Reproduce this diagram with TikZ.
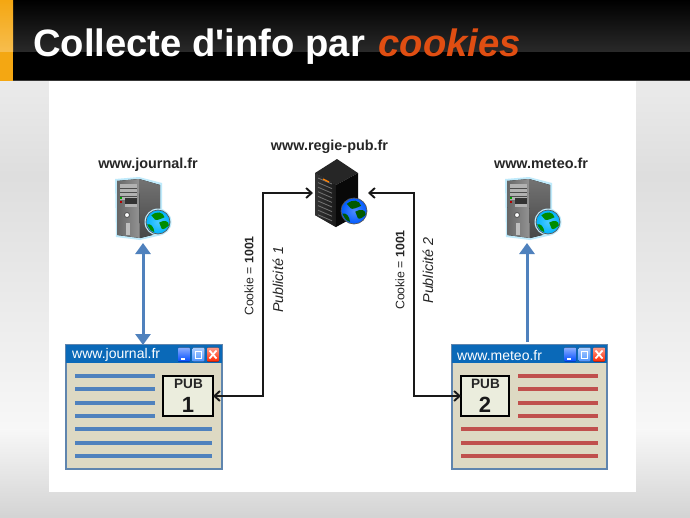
\documentclass[tikz,border=0pt]{standalone}
\usepackage{fontspec}
\setmainfont{Liberation Sans}
\newfontfamily\plainmap{Liberation Sans}
\usetikzlibrary{arrows.meta,calc}
\definecolor{barblue}{HTML}{4F81BD}
\definecolor{linered}{HTML}{C0504D}
\definecolor{winfill}{HTML}{DDD9C3}
\definecolor{winedge}{HTML}{5F85AE}
\definecolor{wintitle}{HTML}{0A69B8}
\definecolor{pubfill}{HTML}{EBEDDD}
\definecolor{accent}{HTML}{E04E12}
\definecolor{stripe}{HTML}{F4A712}
\tikzset{
  anchorbox/.style={inner sep=0pt,outer sep=0pt,minimum width=#1},
  site/.style={font=\fontsize{14.4}{16}\selectfont\bfseries,text=black!85,inner sep=0pt,anchor=base},
  sidelabel/.style={font=\fontsize{12.3}{14}\selectfont,text=black!85,rotate=90,inner sep=0pt},
  sideital/.style={font=\fontsize{14.3}{16}\selectfont\itshape,text=black!85,rotate=90,inner sep=0pt},
  wintext/.style={font=\fontsize{14}{16}\selectfont,text=white,anchor=west,inner sep=0pt},
  pubbox/.style={draw=black,line width=1.2pt,fill=pubfill,inner sep=0pt,outer sep=0pt,minimum height=40pt},
  publabel/.style={font=\bfseries\fontsize{13.6}{15}\selectfont,inner sep=0pt,text=black!85},
  pubnum/.style={font=\bfseries\fontsize{22}{24}\selectfont,inner sep=0pt,text=black!90},
  blink/.style={line width=1.9pt,black!90,{Straight Barb[length=5.5pt,width=10pt,line width=1.9pt]}-{Straight Barb[length=5.5pt,width=10pt,line width=1.9pt]}},
  bluelink/.style={line width=3pt,barblue},
  bluetip/.style={-{Triangle[length=11pt,width=15pt]}},
  bluetips/.style={{Triangle[length=11pt,width=15pt]}-{Triangle[length=11pt,width=15pt]}},
  pics/tower/.style={code={
    \fill[cyan!25] (-2,1) -- (22,-1) -- (45,5) -- (45,57) -- (23,62) -- (-1,59) -- cycle;
    \fill[left color=black!60,right color=black!42] (0,3) -- (22,1) -- (23,60) -- (0.5,57) -- cycle;
    \fill[top color=black!55,bottom color=black!72] (22,1) -- (43,7) -- (43,55) -- (23,60) -- cycle;
    \fill[black!30] (2.5,6) rectangle (20,22);
    \draw[black!70,line width=.6pt] (2.5,10) -- (20,10) (2.5,14) -- (20,14) (2.5,18) -- (20,18);
    \fill[black!80] (8,20) rectangle (19.5,26);
    \fill[black!30] (8,26) rectangle (19.5,29);
    \fill[green!60!black] (2.5,18.5) rectangle (5,20.5);
    \fill[red!70!black] (2.5,22.5) rectangle (5,24.5);
    \filldraw[fill=white,draw=black!70,line width=.8pt] (10,37) circle (2.5);
    \fill[black!25] (9,45) rectangle (13,57);
  }},
  pics/globe/.style n args={3}{code={
    \shade[inner color=#2!70!white,outer color=#2] (0,0) circle (#1);
    \fill[#3] (-0.55*#1,-0.55*#1) .. controls (-0.1*#1,-0.95*#1) and (0.4*#1,-0.85*#1) .. (0.55*#1,-0.4*#1)
       .. controls (0.2*#1,-0.25*#1) and (-0.1*#1,-0.1*#1) .. (-0.25*#1,-0.2*#1) -- cycle;
    \fill[#3] (0.1*#1,0.05*#1) .. controls (0.5*#1,-0.2*#1) and (0.95*#1,-0.1*#1) .. (0.9*#1,0.3*#1)
       .. controls (0.7*#1,0.45*#1) and (0.45*#1,0.7*#1) .. (0.3*#1,0.55*#1) -- cycle;
    \fill[#3] (-0.9*#1,0.2*#1) .. controls (-0.6*#1,0.1*#1) and (-0.35*#1,0.4*#1) .. (-0.3*#1,0.85*#1)
       .. controls (-0.6*#1,0.75*#1) .. cycle;
    \draw[black!65,line width=.7pt] (0,0) circle (#1);
  }},
  pics/winbtn/.style n args={2}{code={
    \fill[rounded corners=1pt,top color=#1!45!white,bottom color=#1] (0,0) rectangle (12,14);
    #2
  }},
}
\begin{document}
\begin{tikzpicture}[x=1pt,y=-1pt,line cap=butt]
\useasboundingbox (0,0) rectangle (690,517);
% slide background
\fill[top color=black!8,bottom color=black!13] (0,81) rectangle (690,175);
\fill[top color=black!13,bottom color=black!3] (0,174.5) rectangle (690,430);
\fill[top color=black!3,bottom color=black!17] (0,429.5) rectangle (690,517);
% title band
\fill[black] (0,0) rectangle (690,81);
\fill[top color=black,bottom color=black!84] (0,0) rectangle (690,51);
\fill[black!78] (0,80) rectangle (690,81);
\fill[stripe] (0,0) rectangle (13,81);
\fill[top color=stripe,bottom color=stripe!75!white] (0,0) rectangle (13,51);
\node[anchor=base west,inner sep=0pt,text=white,font=\plainmap\bfseries\fontsize{38.2}{42}\selectfont] (title) at (33,56)
  {Collecte d'info par\hspace{3pt} \textcolor{accent}{\textit{cookies}}};
% white panel
\fill[white] (49,81) rectangle (636,492);
% servers
\node[anchorbox=44pt,minimum height=68pt] (srvJ) at (143,209) {};
\node[anchorbox=44pt,minimum height=68pt] (srvM) at (527,209) {};
\node[anchorbox=55pt,minimum height=68pt] (regie) at (340.5,193) {};
\pic at (117,178) {tower};
\fill[cyan!25] (158,222) circle (13.5);
\pic at (158,222) {globe={12}{cyan!70!blue}{green!55!black}};
\pic at (507,178) {tower};
\fill[cyan!25] (548,222) circle (13.5);
\pic at (548,222) {globe={12}{cyan!70!blue}{green!55!black}};
% regie server
\fill[black!85] (337,159) -- (358,173) -- (336,185) -- (315,173) -- cycle;
\fill[left color=black!80,right color=black!90] (315,173) -- (336,185) -- (336,227) -- (315,215) -- cycle;
\fill[black!97] (358,173) -- (336,185) -- (336,227) -- (358,215) -- cycle;
\foreach \k in {0,...,8}{
  \draw[black!55,line width=.8pt] (318,{178+\k*4.6}) -- (332,{184+\k*4.6});
}
\draw[orange,line width=1.2pt] (323,179) -- (329,182);
\pic at (354,211) {globe={13}{blue!65!cyan}{green!35!black}};
% site labels
\node[site] (lblJ) at (148,168) {www.journal.fr};
\node[site] (lblR) at (329.5,150) {www.regie-pub.fr};
\node[site] (lblM) at (541,168) {www.meteo.fr};
% left window
\node[anchorbox=156pt,minimum height=124pt,draw=winedge,line width=1.2pt,fill=winfill] (winJ) at (144,407) {};
\fill[wintitle] (winJ.north west) rectangle ($(winJ.north east)+(0,18)$);
\node[wintext] (urlJ) at (72,355) {www.journal.fr};
\pic at (178,347.5) {winbtn={blue!70!cyan}{\fill[white] (2.5,10.5) rectangle (7,12.5);}};
\pic at (192.5,347.5) {winbtn={cyan!40!blue!70!white}{\draw[white,line width=1pt] (3,3.5) rectangle (9,10.5);}};
\pic at (207,347.5) {winbtn={red!70!orange}{\draw[white,line width=1.8pt] (2.5,3) -- (9.5,11) (9.5,3) -- (2.5,11);}};
\foreach \yy in {376,389,403,416} \draw[line width=3.2pt,barblue] (75,\yy) -- (155,\yy);
\foreach \yy in {429,443,456} \draw[line width=3.2pt,barblue] (75,\yy) -- (212,\yy);
\node[pubbox,minimum width=50pt] (pubA) at (188,396) {};
\node[publabel] (pubAt) at (188.5,384) {PUB};
\node[pubnum] (pubAn) at (188,405) {1};
% right window
\node[anchorbox=155pt,minimum height=124pt,draw=winedge,line width=1.2pt,fill=winfill] (winM) at (529.5,407) {};
\fill[wintitle] (winM.north west) rectangle ($(winM.north east)+(0,18)$);
\node[wintext] (urlM) at (457,355) {www.meteo.fr};
\pic at (564,347.5) {winbtn={blue!70!cyan}{\fill[white] (2.5,10.5) rectangle (7,12.5);}};
\pic at (578.5,347.5) {winbtn={cyan!40!blue!70!white}{\draw[white,line width=1pt] (3,3.5) rectangle (9,10.5);}};
\pic at (593,347.5) {winbtn={red!70!orange}{\draw[white,line width=1.8pt] (2.5,3) -- (9.5,11) (9.5,3) -- (2.5,11);}};
\foreach \yy in {376,389,403,416} \draw[line width=3.2pt,linered] (518,\yy) -- (598,\yy);
\foreach \yy in {429,443,456} \draw[line width=3.2pt,linered] (461,\yy) -- (598,\yy);
\node[pubbox,minimum width=48pt] (pubB) at (485,396) {};
\node[publabel] (pubBt) at (485.5,384) {PUB};
\node[pubnum] (pubBn) at (485,405) {2};
% connectors
\draw[bluelink,bluetips] (srvJ.south) -- (srvJ.south |- winJ.north);
\draw[bluelink,bluetip] (srvM.south |- winM.north) ++(0,-3) -- (srvM.south);
\draw[blink] (pubA.east) -- (263,396) -- (263,193) -- (regie.west);
\draw[blink] (regie.east) -- (414,193) -- (414,396) -- (pubB.west);
% rotated labels
\node[sidelabel] (ckA) at (249,276) {Cookie = \textbf{1001}};
\node[sideital] (pbA) at (278,280) {Publicité 1};
\node[sidelabel] (ckB) at (400,270) {Cookie = \textbf{1001}};
\node[sideital] (pbB) at (428,270.5) {Publicité 2};
\end{tikzpicture}
\end{document}
